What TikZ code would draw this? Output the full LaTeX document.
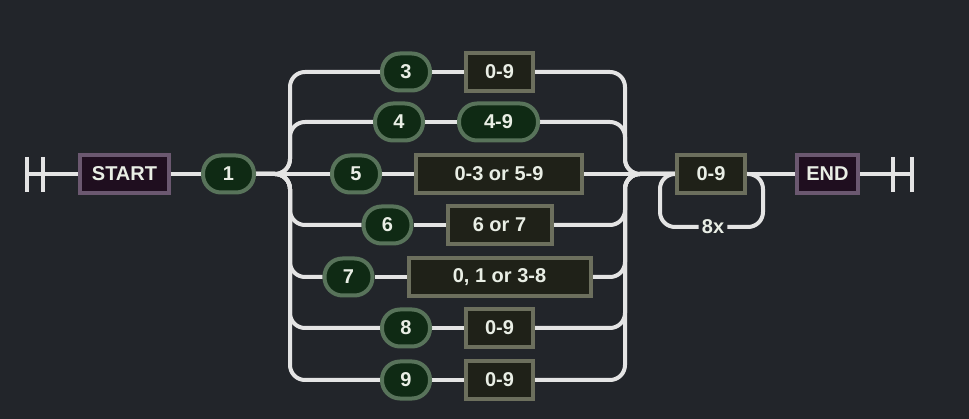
\documentclass[tikz,border=0pt]{standalone}
\usepackage{fontspec}
\setmainfont{Liberation Sans}
\usetikzlibrary{positioning,backgrounds}

\definecolor{bgdark}{HTML}{22252A}
\definecolor{railgray}{HTML}{E4E4E4}
\definecolor{pillfill}{HTML}{0F2A14}
\definecolor{pilledge}{HTML}{58735A}
\definecolor{boxfill}{HTML}{1F2118}
\definecolor{boxedge}{HTML}{6C6F5D}
\definecolor{termfill}{HTML}{1F0E1F}
\definecolor{termedge}{HTML}{6B5870}
\definecolor{labeltext}{HTML}{E9EEE5}

\begin{document}
\begin{tikzpicture}[
    x=1pt, y=-1pt,
    node distance=32pt,
    every node/.style={font=\fontsize{20}{23}\selectfont\bfseries, text=labeltext},
    pill/.style={rectangle, rounded corners=18pt, draw=pilledge, fill=pillfill, line width=4pt, minimum width=48pt, minimum height=37pt, inner sep=2pt},
    digitbox/.style={rectangle, draw=boxedge, fill=boxfill, line width=4pt, minimum width=67pt, minimum height=38pt, inner sep=2pt},
    terminal/.style={rectangle, draw=termedge, fill=termfill, line width=4pt, minimum height=38pt, inner sep=2pt},
    rail/.style={draw=railgray, line width=4pt},
    railbend/.style={rail, rounded corners=15pt}
]

\begin{scope}[on background layer]
\fill[bgdark] (0,0) rectangle (969,419);
\end{scope}
\useasboundingbox (0,0) rectangle (969,419);

\coordinate (lstop) at (27,174);
\coordinate (rstop) at (912,174);
\coordinate (split) at (290,174);
\coordinate (merge) at (625,174);
\coordinate (loopback) at (763,174);

\node[terminal, minimum width=89pt] (start) at (124.5,174) {START};
\node[pill, minimum width=51pt, right=30pt of start] (one) {1};

\node[pill] (p3) at (406,72) {3};
\node[digitbox, right=of p3] (b3) {0-9};
\node[pill] (p4) at (399,122) {4};
\node[pill, minimum width=79pt, right=of p4] (b4) {4-9};
\node[pill] (p5) at (356,174) {5};
\node[digitbox, minimum width=166pt, right=of p5] (b5) {0-3 or 5-9};
\node[pill] (p6) at (387.5,225) {6};
\node[digitbox, minimum width=104pt, right=of p6] (b6) {6 or 7};
\node[pill] (p7) at (348.5,277) {7};
\node[digitbox, minimum width=182pt, right=of p7] (b7) {0, 1 or 3-8};
\node[pill] (p8) at (406,328) {8};
\node[digitbox, right=of p8] (b8) {0-9};
\node[pill] (p9) at (406,380) {9};
\node[digitbox, right=of p9] (b9) {0-9};

\node[digitbox, minimum width=68pt] (rep) at (711,174) {0-9};
\node[fill=bgdark, inner sep=3pt] (times) at (713,227) {8x};
\node[terminal, minimum width=61pt, right=48pt of rep] (end) {END};

\begin{scope}[on background layer]
% ends
\draw[rail] (lstop) -- (start);
\draw[rail] (27,157) -- (27,192);
\draw[rail] (43,157) -- (43,192);
\draw[rail] (end) -- (rstop);
\draw[rail] (893,157) -- (893,192);
\draw[rail] (912,157) -- (912,192);
\draw[rail] (start) -- (one);

% straight through
\draw[rail] (one) -- (p5);
\draw[rail] (p5) -- (b5);
\draw[rail] (b5) -- (rep);
\draw[rail] (rep) -- (end);

% branches out
\draw[railbend] (one.east) -- (split) |- (p3.west);
\draw[railbend] (one.east) -- (split) |- (p4.west);
\draw[railbend] (one.east) -- (split) |- (p6.west);
\draw[railbend] (one.east) -- (split) |- (p7.west);
\draw[railbend] (one.east) -- (split) |- (p8.west);
\draw[railbend] (one.east) -- (split) |- (p9.west);

\draw[rail] (p3) -- (b3);
\draw[rail] (p4) -- (b4);
\draw[rail] (p6) -- (b6);
\draw[rail] (p7) -- (b7);
\draw[rail] (p8) -- (b8);
\draw[rail] (p9) -- (b9);

% branches in
\draw[railbend] (b3.east) -| (merge) -- (rep.west);
\draw[railbend] (b4.east) -| (merge) -- (rep.west);
\draw[railbend] (b6.east) -| (merge) -- (rep.west);
\draw[railbend] (b7.east) -| (merge) -- (rep.west);
\draw[railbend] (b8.east) -| (merge) -- (rep.west);
\draw[railbend] (b9.east) -| (merge) -- (rep.west);

% repeat loop
\draw[railbend] (rep.west) -- ++(-15,0) |- (times);
\draw[railbend] (times) -| (loopback) -- (rep.east);
\end{scope}

\end{tikzpicture}
\end{document}
